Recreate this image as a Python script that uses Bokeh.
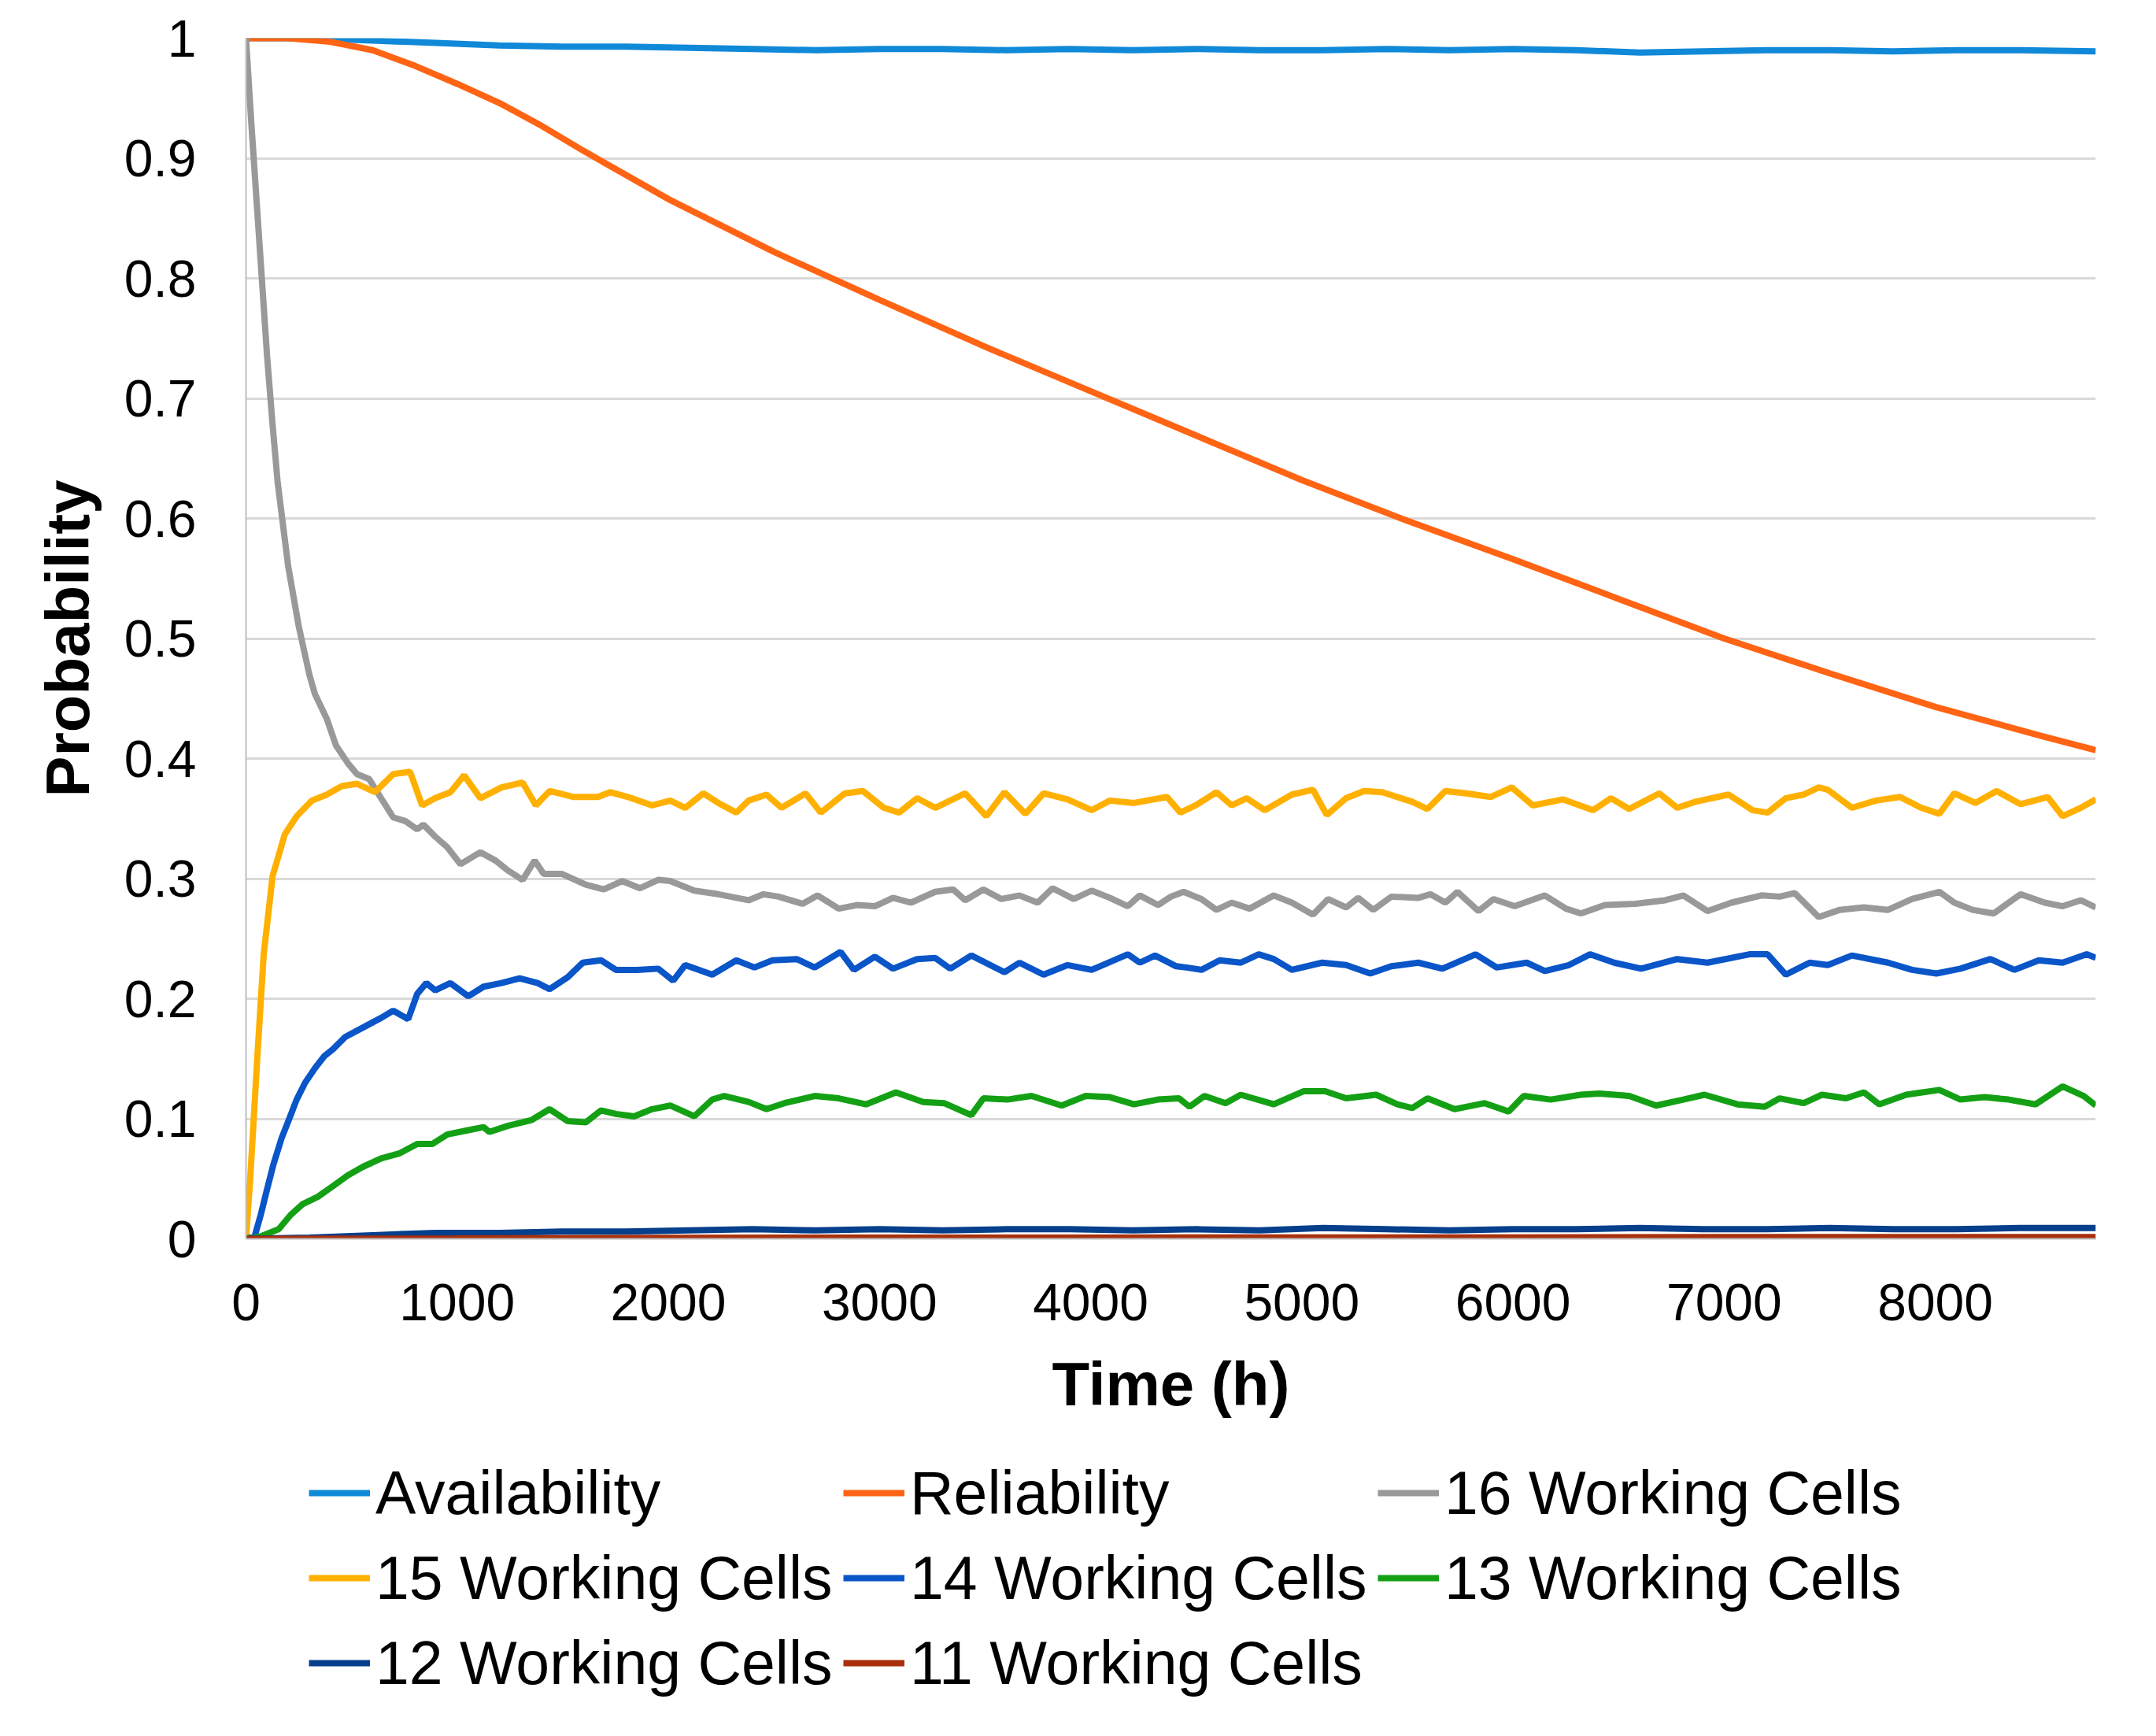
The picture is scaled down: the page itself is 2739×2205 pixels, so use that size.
from bokeh.plotting import figure
from bokeh.layouts import column
from bokeh.models import Range1d, FixedTicker, Legend, LegendItem
from bokeh.embed import file_html
from bokeh.resources import INLINE

# data (time in hours, probability)
t_avail = [0, 300, 600, 900, 1200, 1500, 1800, 2100, 2400, 2700, 3000, 3300, 3600, 3900, 4200,
           4500, 4800, 5100, 5400, 5700, 6000, 6300, 6600, 6900, 7200, 7500, 7800, 8100, 8400, 8760]
p_avail = [1.0, 1.0, 0.998, 0.996, 0.994, 0.993, 0.993, 0.992, 0.991, 0.990, 0.991, 0.991, 0.990, 0.991, 0.990,
           0.991, 0.990, 0.990, 0.991, 0.990, 0.991, 0.990, 0.988, 0.989, 0.990, 0.990, 0.989, 0.990, 0.990, 0.989]

t_rel = [0, 200, 400, 600, 800, 1000, 1200, 1400, 1600, 2000, 2500, 3000, 3500, 4000, 4500,
         5000, 5500, 6000, 6500, 7000, 7500, 8000, 8500, 8760]
p_rel = [1.0, 1.0, 0.997, 0.99, 0.977, 0.962, 0.946, 0.927, 0.906, 0.866, 0.822, 0.782, 0.743, 0.706, 0.669,
         0.632, 0.598, 0.566, 0.533, 0.500, 0.471, 0.443, 0.419, 0.407]

t_16 = [0, 25, 50, 75, 100, 125, 150, 200, 250, 300, 326, 383, 426, 483, 526, 583, 640, 697, 754, 811,
        840, 896, 954, 1016, 1110, 1182, 1239, 1310, 1367, 1410, 1495, 1609, 1695, 1781, 1866, 1952, 2009,
        2123, 2237, 2380, 2451, 2522, 2636, 2707, 2807, 2893, 2978, 3064, 3149, 3264, 3349, 3406, 3492,
        3577, 3663, 3749, 3820, 3920, 4005, 4091, 4176, 4233, 4319, 4380, 4440, 4525, 4596, 4668, 4753,
        4867, 4953, 5053, 5124, 5210, 5267, 5338, 5424, 5552, 5609, 5680, 5737, 5837, 5908, 6008, 6151,
        6251, 6322, 6436, 6579, 6721, 6807, 6921, 7035, 7177, 7263, 7334, 7448, 7548, 7662, 7776, 7890,
        8019, 8090, 8176, 8276, 8404, 8518, 8603, 8689, 8760]
p_16 = [1.0, 0.93, 0.865, 0.80, 0.735, 0.68, 0.63, 0.56, 0.51, 0.47, 0.454, 0.433, 0.411, 0.396, 0.387,
        0.383, 0.367, 0.351, 0.348, 0.341, 0.345, 0.335, 0.326, 0.312, 0.322, 0.315, 0.307, 0.299, 0.315,
        0.304, 0.304, 0.295, 0.291, 0.298, 0.292, 0.299, 0.298, 0.290, 0.287, 0.282, 0.287, 0.285, 0.279,
        0.286, 0.275, 0.278, 0.277, 0.284, 0.280, 0.289, 0.291, 0.282, 0.291, 0.283, 0.286, 0.280, 0.292,
        0.283, 0.290, 0.284, 0.277, 0.286, 0.278, 0.285, 0.289, 0.283, 0.274, 0.280, 0.275, 0.286, 0.280,
        0.270, 0.283, 0.276, 0.284, 0.274, 0.285, 0.284, 0.287, 0.280, 0.289, 0.273, 0.283, 0.277, 0.286,
        0.275, 0.271, 0.278, 0.279, 0.282, 0.286, 0.273, 0.280, 0.286, 0.285, 0.288, 0.268, 0.274, 0.276,
        0.274, 0.283, 0.289, 0.280, 0.274, 0.271, 0.287, 0.280, 0.277, 0.282, 0.276]

t_15 = [0, 20, 40, 55, 84, 126, 184, 240, 312, 383, 454, 526, 611, 697, 777, 834, 896, 968, 1033, 1110,
        1210, 1310, 1373, 1438, 1552, 1667, 1724, 1809, 1923, 2009, 2080, 2166, 2237, 2322, 2380, 2465,
        2536, 2650, 2722, 2836, 2921, 3021, 3093, 3178, 3264, 3406, 3506, 3592, 3691, 3777, 3891, 4005,
        4091, 4205, 4362, 4425, 4497, 4596, 4668, 4739, 4825, 4953, 5053, 5118, 5210, 5295, 5381, 5523,
        5595, 5680, 5780, 5894, 5994, 6094, 6236, 6379, 6464, 6550, 6693, 6778, 6864, 7021, 7135, 7206,
        7292, 7377, 7448, 7491, 7605, 7719, 7833, 7933, 8019, 8090, 8190, 8290, 8404, 8532, 8603, 8689, 8760]
p_15 = [0.0, 0.05, 0.11, 0.155, 0.237, 0.302, 0.337, 0.352, 0.365, 0.370, 0.377, 0.379, 0.372, 0.387, 0.389,
        0.361, 0.367, 0.372, 0.386, 0.367, 0.376, 0.380, 0.361, 0.373, 0.368, 0.368, 0.372, 0.368, 0.361,
        0.365, 0.359, 0.371, 0.363, 0.355, 0.365, 0.370, 0.359, 0.371, 0.355, 0.371, 0.373, 0.359, 0.355,
        0.367, 0.359, 0.371, 0.352, 0.372, 0.354, 0.371, 0.366, 0.357, 0.365, 0.363, 0.368, 0.355, 0.361,
        0.372, 0.361, 0.367, 0.357, 0.370, 0.374, 0.353, 0.367, 0.373, 0.372, 0.364, 0.358, 0.373, 0.371,
        0.368, 0.376, 0.361, 0.366, 0.357, 0.367, 0.358, 0.371, 0.359, 0.364, 0.370, 0.357, 0.355, 0.367,
        0.370, 0.376, 0.374, 0.359, 0.365, 0.368, 0.359, 0.354, 0.371, 0.363, 0.373, 0.362, 0.368, 0.352,
        0.359, 0.366]

t_14 = [0, 41, 70, 98, 130, 169, 205, 240, 280, 326, 370, 412, 469, 554, 640, 697, 768, 811, 854, 896,
        968, 1053, 1125, 1210, 1296, 1381, 1438, 1524, 1595, 1681, 1752, 1852, 1952, 2023, 2080, 2208,
        2322, 2408, 2493, 2608, 2693, 2816, 2879, 2978, 3064, 3178, 3264, 3335, 3435, 3592, 3663, 3777,
        3891, 4005, 4176, 4233, 4305, 4405, 4454, 4525, 4611, 4711, 4796, 4867, 4953, 5096, 5210, 5324,
        5424, 5552, 5666, 5823, 5923, 6065, 6151, 6265, 6365, 6479, 6607, 6778, 6921, 7120, 7206, 7292,
        7405, 7491, 7605, 7776, 7890, 8005, 8119, 8261, 8375, 8490, 8603, 8717, 8760]
p_14 = [0.0, 0.002, 0.02, 0.04, 0.062, 0.084, 0.100, 0.116, 0.130, 0.142, 0.152, 0.158, 0.168, 0.176,
        0.184, 0.190, 0.183, 0.204, 0.213, 0.207, 0.213, 0.202, 0.210, 0.213, 0.217, 0.213, 0.208, 0.218,
        0.230, 0.232, 0.224, 0.224, 0.225, 0.215, 0.228, 0.220, 0.232, 0.226, 0.232, 0.233, 0.226, 0.239,
        0.224, 0.235, 0.225, 0.233, 0.234, 0.225, 0.236, 0.222, 0.230, 0.220, 0.228, 0.224, 0.237, 0.230,
        0.236, 0.227, 0.226, 0.224, 0.232, 0.230, 0.237, 0.233, 0.224, 0.230, 0.228, 0.221, 0.227, 0.230,
        0.225, 0.237, 0.226, 0.230, 0.223, 0.228, 0.237, 0.230, 0.225, 0.233, 0.230, 0.237, 0.237, 0.220,
        0.230, 0.228, 0.236, 0.230, 0.224, 0.221, 0.225, 0.233, 0.224, 0.232, 0.230, 0.237, 0.234]

t_13 = [0, 40, 69, 155, 212, 269, 340, 412, 483, 554, 640, 725, 811, 882, 954, 1039, 1125, 1153, 1239,
        1353, 1438, 1524, 1609, 1681, 1752, 1838, 1923, 2009, 2123, 2208, 2265, 2380, 2465, 2550, 2693,
        2807, 2936, 3078, 3207, 3306, 3435, 3492, 3606, 3720, 3863, 3977, 4091, 4205, 4319, 4419, 4468,
        4539, 4639, 4711, 4867, 5010, 5110, 5210, 5352, 5452, 5523, 5595, 5723, 5866, 5980, 6051, 6179,
        6322, 6407, 6550, 6678, 6807, 6907, 7063, 7192, 7263, 7377, 7463, 7577, 7662, 7734, 7862, 8019,
        8119, 8233, 8347, 8475, 8603, 8703, 8760]
p_13 = [0.0, 0.001, 0.002, 0.008, 0.020, 0.029, 0.035, 0.044, 0.053, 0.060, 0.067, 0.071, 0.079, 0.079,
        0.087, 0.090, 0.093, 0.089, 0.094, 0.099, 0.108, 0.098, 0.097, 0.107, 0.104, 0.102, 0.108, 0.111,
        0.102, 0.116, 0.119, 0.114, 0.108, 0.113, 0.119, 0.117, 0.112, 0.122, 0.114, 0.113, 0.103, 0.117,
        0.116, 0.119, 0.111, 0.119, 0.118, 0.112, 0.116, 0.117, 0.110, 0.119, 0.113, 0.120, 0.112, 0.123,
        0.123, 0.117, 0.120, 0.112, 0.109, 0.117, 0.108, 0.113, 0.106, 0.119, 0.116, 0.120, 0.121, 0.119,
        0.111, 0.116, 0.120, 0.112, 0.110, 0.117, 0.113, 0.120, 0.117, 0.122, 0.112, 0.120, 0.124, 0.116,
        0.118, 0.116, 0.112, 0.127, 0.119, 0.111]

t_12 = [0, 300, 600, 900, 1200, 1500, 1800, 2100, 2400, 2700, 3000, 3300, 3600, 3900, 4200,
        4500, 4800, 5100, 5400, 5700, 6000, 6300, 6600, 6900, 7200, 7500, 7800, 8100, 8400, 8760]
p_12 = [0.0, 0.001, 0.003, 0.005, 0.005, 0.006, 0.006, 0.007, 0.008, 0.007, 0.008, 0.007, 0.008, 0.008, 0.007,
        0.008, 0.007, 0.009, 0.008, 0.007, 0.008, 0.008, 0.009, 0.008, 0.008, 0.009, 0.008, 0.008, 0.009, 0.009]

t_11 = [0, 1000, 2000, 3000, 4000, 5000, 6000, 7000, 8000, 8760]
p_11 = [0.0, 0.0003, 0.0008, 0.001, 0.001, 0.0012, 0.0012, 0.0015, 0.0015, 0.0015]

names = ["Availability", "Reliability", "16 Working Cells", "15 Working Cells", "14 Working Cells",
         "13 Working Cells", "12 Working Cells", "11 Working Cells"]
colors = ["#1089d8", "#ff6414", "#999999", "#ffb000", "#0a55c8", "#14a014", "#063f8c", "#a8300c"]
series = [(t_avail, p_avail), (t_rel, p_rel), (t_16, p_16), (t_15, p_15), (t_14, p_14),
          (t_13, p_13), (t_12, p_12), (t_11, p_11)]

x_ticks = [0, 1000, 2000, 3000, 4000, 5000, 6000, 7000, 8000]
y_ticks = [0, 0.1, 0.2, 0.3, 0.4, 0.5, 0.6, 0.7, 0.8, 0.9, 1]

LINE_W = 8

# main chart
p = figure(width=2720, height=1838, output_backend="svg", toolbar_location=None, tools="",
           x_range=Range1d(0, 8760), y_range=Range1d(0, 1),
           min_border_left=312, min_border_right=58, min_border_top=48, min_border_bottom=265)

for (tx, py), col in zip(series, colors):
    p.line(tx, py, line_color=col, line_width=LINE_W)

p.outline_line_color = None
p.xgrid.grid_line_color = None
p.ygrid.grid_line_color = "#d9d9d9"
p.ygrid.grid_line_width = 3

p.xaxis.ticker = FixedTicker(ticks=x_ticks)
p.yaxis.ticker = FixedTicker(ticks=y_ticks)
p.yaxis.major_label_overrides = {0: "0", 1: "1"}

for ax in (p.xaxis, p.yaxis):
    ax.axis_line_color = "#bfbfbf"
    ax.axis_line_width = 2
    ax.major_tick_line_color = None
    ax.minor_tick_line_color = None
    ax.major_tick_out = 0
    ax.major_tick_in = 0
    ax.major_label_text_font = "Liberation Sans"
    ax.major_label_text_font_size = "66px"
    ax.major_label_text_color = "black"
    ax.axis_label_text_font = "Liberation Sans"
    ax.axis_label_text_font_size = "78px"
    ax.axis_label_text_font_style = "bold"
    ax.axis_label_text_color = "black"

p.xaxis.axis_label = "Time (h)"
p.yaxis.axis_label = "Probability"
p.xaxis.major_label_standoff = 57
p.yaxis.major_label_standoff = 63
p.xaxis.axis_label_standoff = 34
p.yaxis.axis_label_standoff = 25

# legend strip under the chart (own small figure, so it is not clipped);
# the column lines its frame up with the main frame
leg = figure(width=2720, height=351, output_backend="svg", toolbar_location=None, tools="",
             x_range=Range1d(0, 1), y_range=Range1d(0, 1), x_axis_type=None, y_axis_type=None,
             min_border=0)
leg.outline_line_color = None
leg.grid.grid_line_color = None

items = []
for name, col in zip(names, colors):
    # swatch-only renderer, kept outside the visible range
    r = leg.line([-2, -1], [-2, -1], line_color=col, line_width=LINE_W)
    items.append(LegendItem(label=name, renderers=[r]))

legend = Legend(items=items, location=(80, 25), orientation="horizontal", ncols=3,
                label_text_font="Liberation Sans", label_text_font_size="77px",
                label_text_color="black",
                glyph_width=78, glyph_height=104, label_height=104, label_width=590,
                label_standoff=7, spacing=4, padding=0, margin=0, border_line_color=None,
                background_fill_alpha=0)
leg.add_layout(legend)

open("out.html", "w").write(file_html(column(p, leg, spacing=0), INLINE))
